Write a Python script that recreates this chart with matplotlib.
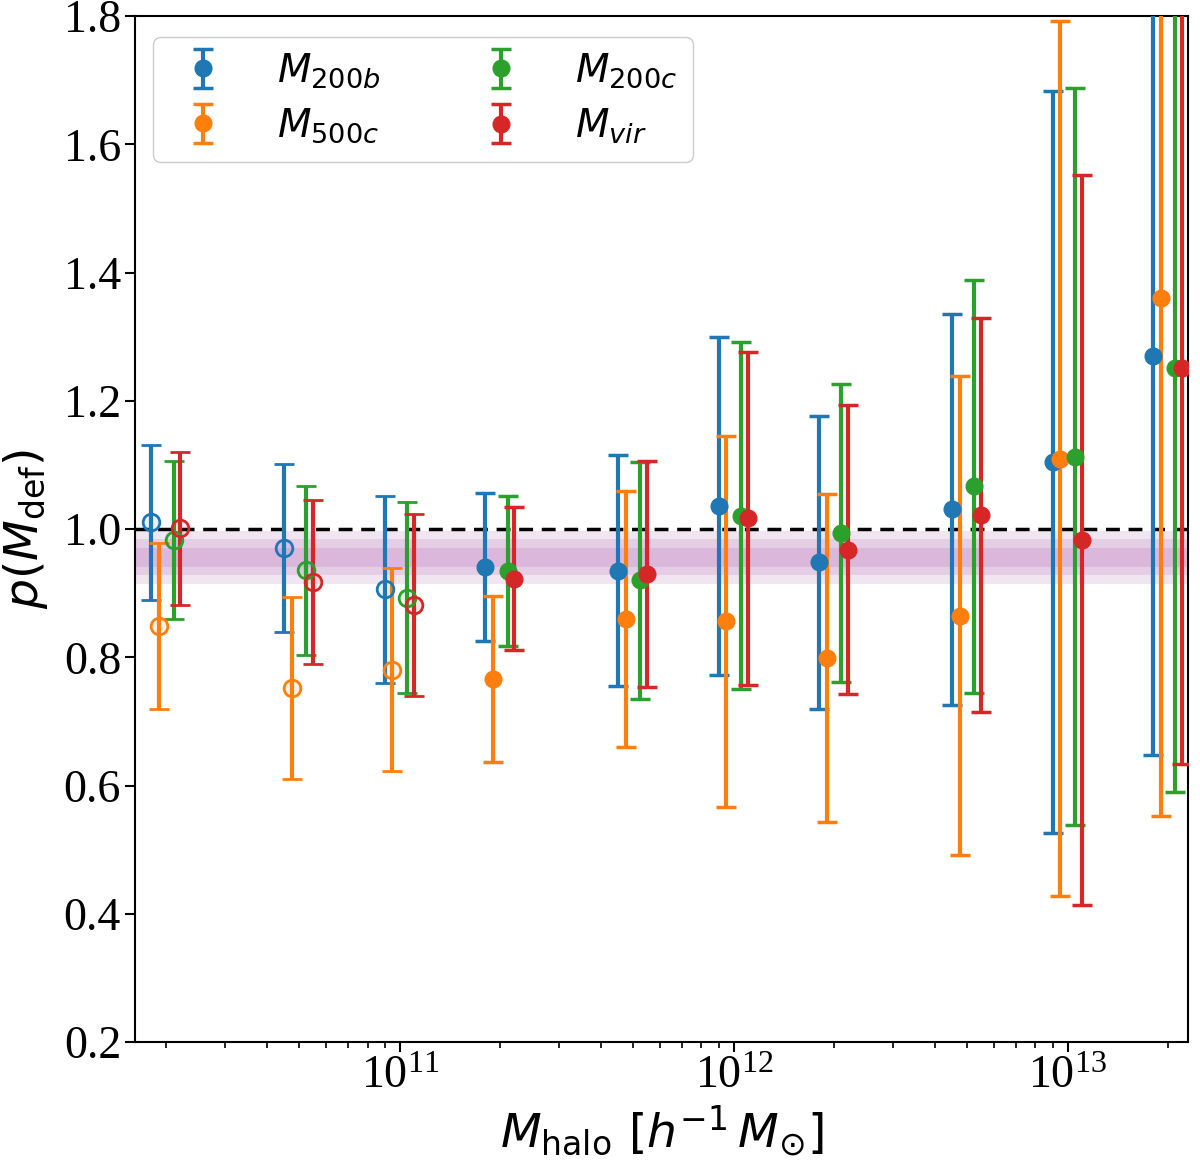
import numpy as np
import matplotlib
matplotlib.use("Agg")
import matplotlib.pyplot as plt

plt.rcParams["font.family"] = "serif"
plt.rcParams["font.serif"] = ["Liberation Serif", "DejaVu Serif"]
plt.rcParams["mathtext.fontset"] = "dejavusans"

# bin centres and per-definition offsets
mass_bins = [2e10, 5e10, 1e11, 2e11, 5e11, 1e12, 2e12, 5e12, 1e13, 2e13]
offsets = [0.90, 0.95, 1.05, 1.10]
n_open = 3  # first bins drawn with open markers

labels = [r"$M_{200b}$", r"$M_{500c}$", r"$M_{200c}$", r"$M_{vir}$"]
colors = ["tab:blue", "tab:orange", "tab:green", "tab:red"]

p_200b = [1.011, 0.971, 0.906, 0.941, 0.935, 1.036, 0.948, 1.031, 1.105, 1.270]
p_500c = [0.849, 0.752, 0.781, 0.766, 0.860, 0.856, 0.799, 0.865, 1.110, 1.360]
p_200c = [0.983, 0.936, 0.893, 0.935, 0.920, 1.021, 0.994, 1.067, 1.113, 1.252]
p_vir = [1.001, 0.917, 0.882, 0.923, 0.930, 1.017, 0.968, 1.022, 0.983, 1.251]

e_200b = [0.121, 0.131, 0.146, 0.116, 0.180, 0.264, 0.229, 0.305, 0.579, 0.623]
e_500c = [0.130, 0.142, 0.158, 0.129, 0.200, 0.290, 0.256, 0.374, 0.683, 0.808]
e_200c = [0.123, 0.132, 0.149, 0.117, 0.185, 0.271, 0.233, 0.322, 0.575, 0.662]
e_vir = [0.119, 0.128, 0.142, 0.112, 0.177, 0.260, 0.225, 0.308, 0.569, 0.618]

# best-fit constant and its 1/2/3 sigma bands
p_fit = 0.956
p_sig = [0.0145, 0.028, 0.041]

values = [p_200b, p_500c, p_200c, p_vir]
errors = [e_200b, e_500c, e_200c, e_vir]

fig = plt.figure(figsize=(12, 11.6), dpi=100)
ax = fig.add_axes([0.1125, 0.1017, 0.8775, 0.8843])

for s in p_sig:
    ax.axhspan(p_fit - s, p_fit + s, color="purple", alpha=0.1, lw=0, zorder=0)
ax.axhline(1.0, color="black", ls="--", lw=2.5, dashes=(4, 2.5), zorder=1)

for i in range(4):
    x = np.array(mass_bins) * offsets[i]
    y = np.array(values[i])
    e = np.array(errors[i])
    c = matplotlib.colors.to_rgba(colors[i])
    ax.errorbar(x[:n_open], y[:n_open], yerr=e[:n_open], fmt="o", color=colors[i],
                mfc=(c[0], c[1], c[2], 0.1), mec=colors[i], mew=2, ms=12,
                elinewidth=3, capsize=7, capthick=2.5, zorder=3)
    ax.errorbar(x[n_open:], y[n_open:], yerr=e[n_open:], fmt="o", color=colors[i],
                ms=12, elinewidth=3, capsize=7, capthick=2.5, zorder=3,
                label=labels[i])

ax.set_xscale("log")
ax.set_xlim(1.61e10, 2.29e13)
ax.set_ylim(0.2, 1.8)
ax.set_yticks(np.arange(0.2, 1.81, 0.2))
ax.tick_params(axis="both", which="major", labelsize=33, length=7, width=1.5, pad=3)
ax.tick_params(axis="x", which="minor", length=4, width=1.2)
for sp in ax.spines.values():
    sp.set_linewidth(1.5)

ax.set_xlabel(r"$M_{\rm halo}\ [h^{-1}\,M_{\odot}]$", fontsize=34, labelpad=4)
ax.set_ylabel(r"$p(M_{\rm def})$", fontsize=34, labelpad=10)

ax.legend(loc="upper left", ncol=2, fontsize=28, handletextpad=1.0,
          columnspacing=2.2, borderpad=0.4, labelspacing=0.42,
          bbox_to_anchor=(0.017, 0.98), borderaxespad=0, framealpha=1,
          handlelength=1.8)

plt.savefig("out.png", dpi=100)
plt.close()
